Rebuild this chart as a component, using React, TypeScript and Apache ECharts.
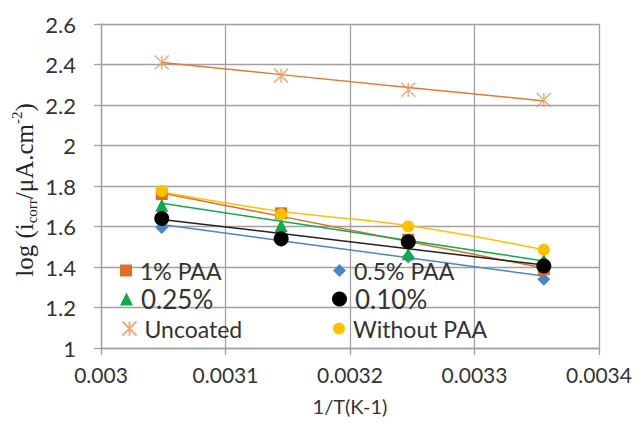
import React, { useEffect, useRef } from 'react';
import * as echarts from 'echarts';

// 1/T values (K^-1) for 328, 318, 308, 298 K
const invT = [0.0030488, 0.0031447, 0.0032468, 0.0033557];

// measured log(icorr)
const paa1 = [1.76, 1.665, 1.535, 1.39];
const paa05 = [1.595, 1.53, 1.45, 1.34];
const paa025 = [1.705, 1.605, 1.465, 1.435];
const paa010 = [1.64, 1.54, 1.525, 1.405];
const uncoated = [2.41, 2.345, 2.275, 2.225];
const withoutPAA = [1.775, 1.66, 1.6, 1.485];

// trend lines
const paa1Fit = [1.765, 1.65, 1.526, 1.395];
const paa05Fit = [1.61, 1.53, 1.446, 1.355];
const paa025Fit = [1.715, 1.626, 1.531, 1.43];
const paa010Fit = [1.635, 1.565, 1.49, 1.41];
const uncoatedFit = [2.41, 2.35, 2.287, 2.22];
const withoutPAAFit = [1.77, 1.675, 1.605, 1.485];

const xTicks = { min: 0.003, max: 0.0034, interval: 0.0001 };
const yTicks = { min: 1, max: 2.6, interval: 0.2 };

const pairs = (ys: number[]) => invT.map((x, i) => [x, ys[i]]);

const ASTERISK = 'path://M0,0L10,10M10,0L0,10M5,0L5,10';

const FONT = 'Lato, "Open Sans", sans-serif';
const TEXT = '#333333';

export default function App() {
  const ref = useRef<HTMLDivElement>(null);
  useEffect(() => {
    if (!ref.current) return;
    const chart = echarts.init(ref.current, undefined, { renderer: 'svg' });

    const specs = [
      { name: '0.5% PAA', color: '#4A86C5', symbol: 'diamond', size: 13, data: paa05, fit: paa05Fit, lineColor: '#4A86C5' },
      { name: '1% PAA', color: '#DD6E26', symbol: 'rect', size: 12, data: paa1, fit: paa1Fit, lineColor: '#DD6E26' },
      { name: '0.25%', color: '#11A94A', symbol: 'triangle', size: 13, data: paa025, fit: paa025Fit, lineColor: '#11A94A' },
      { name: 'Without PAA', color: '#FFC000', symbol: 'circle', size: 12, data: withoutPAA, fit: withoutPAAFit, lineColor: '#FFC000' },
      { name: '0.10%', color: '#000000', symbol: 'circle', size: 15, data: paa010, fit: paa010Fit, lineColor: '#222222' },
    ];

    const series: any[] = [];
    specs.forEach((s) => {
      series.push({
        name: s.name + ' trend',
        type: 'line',
        data: pairs(s.fit),
        showSymbol: false,
        smooth: s.name === 'Without PAA' ? 0.4 : false,
        lineStyle: { color: s.lineColor, width: 1.5 },
        z: 2,
        silent: true,
      });
    });
    series.push({
      name: 'Uncoated trend',
      type: 'line',
      data: pairs(uncoatedFit),
      showSymbol: false,
      lineStyle: { color: '#E07A38', width: 1.5 },
      z: 2,
      silent: true,
    });
    specs.forEach((s) => {
      series.push({
        name: s.name,
        type: 'scatter',
        data: pairs(s.data),
        symbol: s.symbol,
        symbolSize: s.size,
        itemStyle: { color: s.color, opacity: 1 },
        z: 3,
      });
    });
    series.push({
      name: 'Uncoated',
      type: 'scatter',
      data: pairs(uncoated),
      symbol: ASTERISK,
      symbolSize: 14,
      itemStyle: { color: 'none', borderColor: '#E89560', borderWidth: 1.5 },
      z: 3,
    });

    const legendItem = (name: string, left: number, top: number, fontSize: number, size: number) => ({
      data: [name],
      left,
      top,
      padding: 0,
      itemWidth: size,
      itemHeight: size,
      itemGap: 0,
      selectedMode: false,
      textStyle: { fontFamily: FONT, fontSize, color: TEXT, padding: [0, 0, 0, 3] },
    });

    const option: any = {
      animation: false,
      backgroundColor: '#ffffff',
      grid: { left: 101, right: 44, top: 24, bottom: 75 },
      xAxis: {
        type: 'value',
        min: xTicks.min,
        max: xTicks.max,
        interval: xTicks.interval,
        name: '1/T(K-1)',
        nameLocation: 'middle',
        nameGap: 48,
        nameTextStyle: { fontFamily: FONT, fontSize: 20, color: TEXT },
        axisLine: { show: true, lineStyle: { color: '#A0A0A0', width: 1.3 } },
        axisTick: { show: true, length: 7, lineStyle: { color: '#A0A0A0', width: 1.3 } },
        splitLine: { show: true, lineStyle: { color: '#A0A0A0', width: 1.3 } },
        axisLabel: {
          fontFamily: FONT,
          fontSize: 21,
          color: TEXT,
          margin: 16,
          formatter: (v: number) => String(+v.toFixed(4)),
        },
      },
      yAxis: {
        type: 'value',
        min: yTicks.min,
        max: yTicks.max,
        interval: yTicks.interval,
        axisLine: { show: true, lineStyle: { color: '#A0A0A0', width: 1.3 } },
        axisTick: { show: true, length: 7, lineStyle: { color: '#A0A0A0', width: 1.3 } },
        splitLine: { show: true, lineStyle: { color: '#A0A0A0', width: 1.3 } },
        axisLabel: {
          fontFamily: FONT,
          fontSize: 22,
          color: TEXT,
          margin: 25,
          formatter: (v: number) => String(+v.toFixed(1)),
        },
      },
      legend: [
        legendItem('1% PAA', 120, 259, 23, 12),
        legendItem('0.5% PAA', 333, 259, 23, 13),
        legendItem('0.25%', 120, 286, 26, 13),
        legendItem('0.10%', 332, 286, 26, 15),
        legendItem('Uncoated', 120, 317, 23, 14),
        legendItem('Without PAA', 333, 317, 23, 12),
      ],
      graphic: [
        {
          type: 'text',
          x: 24,
          y: 190,
          rotation: Math.PI / 2,
          style: {
            text: '{m|log (i}{s|corr}{m|/μA.cm}{p|-2}{m|)}',
            align: 'center',
            verticalAlign: 'middle',
            rich: {
              m: { fontFamily: '"Liberation Serif", serif', fontSize: 25, fill: '#262626', lineHeight: 30, verticalAlign: 'middle' },
              s: { fontFamily: '"Liberation Serif", serif', fontSize: 15, fill: '#262626', lineHeight: 30, verticalAlign: 'bottom' },
              p: { fontFamily: '"Liberation Serif", serif', fontSize: 15, fill: '#262626', lineHeight: 30, verticalAlign: 'top' },
            },
          },
        },
      ],
      series,
    };
    chart.setOption(option);
    return () => chart.dispose();
  }, []);
  return (
    <div
      ref={ref}
      style={{ position: 'fixed', left: 0, top: 0, width: 643, height: 423, background: '#fff' }}
    />
  );
}
